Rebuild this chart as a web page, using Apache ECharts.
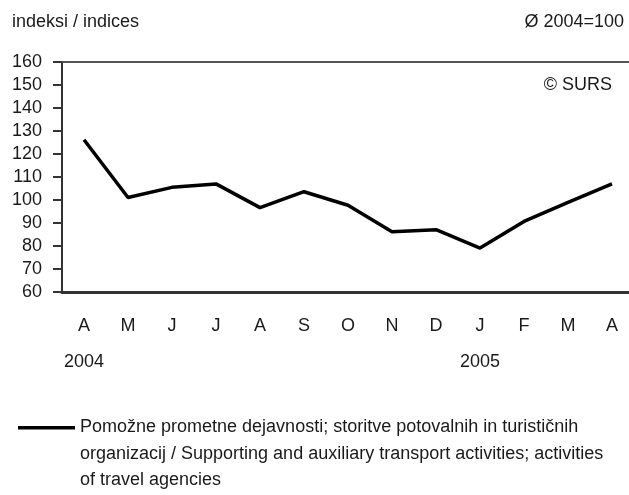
<!DOCTYPE html>
<html>
<head>
<meta charset="utf-8">
<script src="https://cdn.jsdelivr.net/npm/echarts@6/dist/echarts.min.js"></script>
<style>
  html, body { margin: 0; padding: 0; background: #fff; }
  #chart { width: 629px; height: 495px; }
</style>
</head>
<body>
<div id="chart"></div>
<script>
const months = ["A", "M", "J", "J", "A", "S", "O", "N", "D", "J", "F", "M", "A"];
const years = ["2004", "", "", "", "", "", "", "", "", "2005", "", "", ""];
const values = [126.2, 101.1, 105.5, 107.0, 96.7, 103.6, 97.7, 86.2, 87.1, 79.1, 90.7, 99.0, 107.0];
const seriesName = "Pomožne prometne dejavnosti; storitve potovalnih in turističnih\norganizacij / Supporting and auxiliary transport activities; activities\nof travel agencies";

const FONT = '"Liberation Sans", Arial, sans-serif';
const TXT = '#1a1a1a';

const chart = echarts.init(document.getElementById("chart"));

const option = {
    animation: false,
    textStyle: { fontFamily: FONT },
    grid: { left: 62, right: -5, top: 62, bottom: 203, outerBoundsMode: 'none', containLabel: false },
    xAxis: [{
        type: 'category',
        data: months,
        boundaryGap: true,
        axisLine: { lineStyle: { color: '#333', width: 3 } },
        axisTick: { length: 6, lineStyle: { color: '#333', width: 2 } },
        axisLabel: {
            interval: 0,
            margin: 16,
            color: TXT,
            fontSize: 18,
            fontFamily: FONT,
            lineHeight: 36,
            formatter: function (v, i) { return v + '\n' + years[i]; }
        }
    }, {
        type: 'category',
        data: months,
        position: 'top',
        axisLine: { lineStyle: { color: '#555', width: 2 } },
        axisTick: { show: false },
        axisLabel: { show: false }
    }],
    yAxis: {
        type: 'value',
        min: 60,
        max: 160,
        interval: 10,
        axisLine: { show: true, onZero: false, lineStyle: { color: '#333', width: 2 } },
        axisTick: { show: true, length: 9, lineStyle: { color: '#333', width: 2 } },
        splitLine: { show: false },
        axisLabel: { margin: 20, color: TXT, fontSize: 18, fontFamily: FONT }
    },
    legend: {
        left: 18,
        top: 414,
        padding: 0,
        data: [seriesName],
        itemWidth: 57,
        itemHeight: 80,
        itemGap: 0,
        icon: 'path://M0,12L57,12L57,15.5L0,15.5Z M0,0L0.01,0 M0,80L0.01,80',
        textStyle: { color: TXT, fontSize: 18, fontFamily: FONT, lineHeight: 26.5 }
    },
    graphic: [
        { type: 'text', left: 12, top: 13, style: { text: 'indeksi / indices', fill: TXT, font: '18px ' + FONT } },
        { type: 'text', right: 5, top: 13, style: { text: 'Ø 2004=100', fill: TXT, font: '18px ' + FONT } },
        { type: 'text', right: 17, top: 76, style: { text: '© SURS', fill: TXT, font: '18px ' + FONT } }
    ],
    series: [{
        name: seriesName,
        type: 'line',
        data: values,
        symbol: 'none',
        color: '#000',
        lineStyle: { color: '#000', width: 3.5 }
    }]
};

chart.setOption(option);
</script>
</body>
</html>
